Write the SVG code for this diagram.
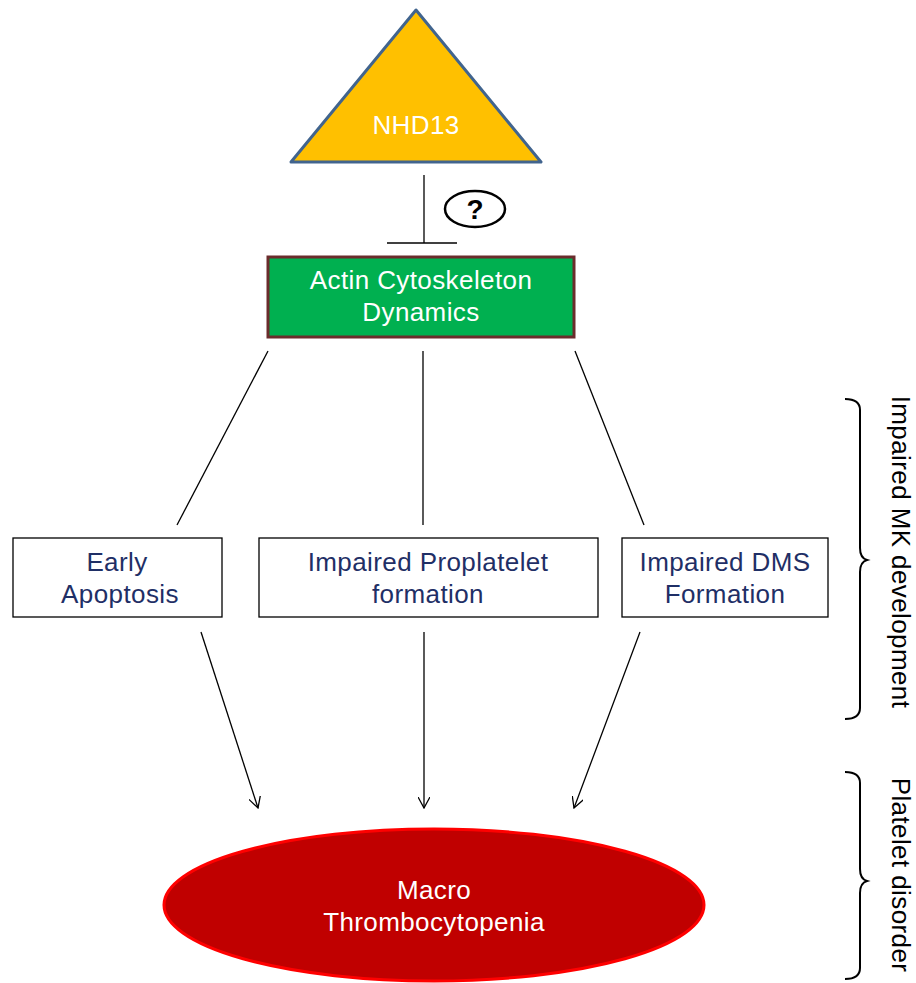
<svg xmlns="http://www.w3.org/2000/svg" width="916" height="983" viewBox="0 0 916 983">
<defs>
<style>
text{font-family:"Liberation Sans",Arial,sans-serif;font-size:26px;letter-spacing:0.4px;text-anchor:middle}
.w{fill:#fff}
.n{fill:#1F2F66}
.k{fill:#000}
.box{fill:#fff;stroke:#000;stroke-width:1.3}
.ln{stroke:#000;stroke-width:1.3;fill:none}
.br{stroke:#000;stroke-width:2;fill:none}
</style>
<marker id="ah" viewBox="0 0 12 12" refX="11" refY="6" markerWidth="12" markerHeight="12" markerUnits="userSpaceOnUse" orient="auto">
<path d="M0,0 L11,6 L0,12" fill="none" stroke="#000" stroke-width="1.3"/>
</marker>
</defs>
<rect width="916" height="983" fill="#fff"/>
<g id="connectors">
<line class="ln" x1="424" y1="175" x2="424" y2="243"/>
<line class="ln" x1="387" y1="243" x2="457" y2="243"/>
<line class="ln" x1="268" y1="351" x2="177" y2="525"/>
<line class="ln" x1="423" y1="351" x2="423" y2="525"/>
<line class="ln" x1="575" y1="351" x2="644" y2="525"/>
<line class="ln" x1="201" y1="632" x2="258" y2="808" marker-end="url(#ah)"/>
<line class="ln" x1="424" y1="632" x2="424" y2="808" marker-end="url(#ah)"/>
<line class="ln" x1="640" y1="632" x2="574" y2="808" marker-end="url(#ah)"/>
</g>
<g id="nhd13">
<polygon points="416,10 541,162 291,162" fill="#FFC000" stroke="#41648E" stroke-width="3" stroke-linejoin="round"/>
<text class="w" x="416" y="134">NHD13</text>
</g>
<g id="question">
<ellipse cx="475" cy="209" rx="30" ry="18" fill="#fff" stroke="#000" stroke-width="2.5"/>
<text class="k" x="475" y="219" style="font-weight:bold;font-size:28px;letter-spacing:0">?</text>
</g>
<g id="actin">
<rect x="268" y="257" width="306" height="80" fill="#00B050" stroke="#6B2C2C" stroke-width="3"/>
<text class="w" x="421" y="289">Actin Cytoskeleton</text>
<text class="w" x="421" y="321">Dynamics</text>
</g>
<g id="apoptosis">
<rect class="box" x="13" y="538" width="209" height="79"/>
<text class="n" x="117" y="571">Early</text>
<text class="n" x="120" y="603">Apoptosis</text>
</g>
<g id="proplatelet">
<rect class="box" x="259" y="538" width="339" height="79"/>
<text class="n" x="428" y="571">Impaired Proplatelet</text>
<text class="n" x="428" y="603">formation</text>
</g>
<g id="dms">
<rect class="box" x="622" y="538" width="206" height="79"/>
<text class="n" x="725" y="571">Impaired DMS</text>
<text class="n" x="725" y="603">Formation</text>
</g>
<g id="macro">
<ellipse cx="434" cy="905" rx="270" ry="76" fill="#C00000" stroke="#FF0000" stroke-width="3"/>
<text class="w" x="434" y="899">Macro</text>
<text class="w" x="434" y="931">Thrombocytopenia</text>
</g>
<g id="mk-brace">
<path class="br" d="M845,399 Q860,399 860,410 L860,548 Q860,558 867,560 Q860,562 860,572 L860,708 Q860,719 845,719"/>
<text class="k" transform="translate(892,552) rotate(90)">Impaired MK development</text>
</g>
<g id="platelet-brace">
<path class="br" d="M845,772 Q860,772 860,783 L860,869 Q860,879 867,881 Q860,883 860,893 L860,968 Q860,979 845,979"/>
<text class="k" transform="translate(892,875) rotate(90)">Platelet disorder</text>
</g>
</svg>
